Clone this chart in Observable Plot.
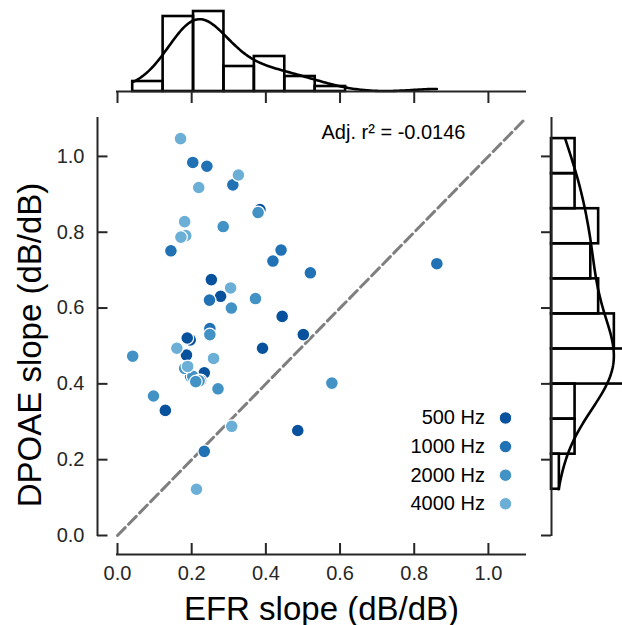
<!DOCTYPE html>
<html>
<head>
<meta charset="utf-8">
<script src="https://cdn.jsdelivr.net/npm/d3@7"></script>
<script src="https://cdn.jsdelivr.net/npm/@observablehq/plot@0.6"></script>
<style>
  html, body { margin: 0; padding: 0; background: white; }
  #fig { position: relative; width: 622px; height: 625px; overflow: hidden; background: white; }
  #fig svg { position: absolute; left: 0; top: 0; max-width: none; }
</style>
</head>
<body>
<div id="fig"></div>
<script>
// ---------------- data ----------------
const freqs = ["500 Hz", "1000 Hz", "2000 Hz", "4000 Hz"];
const blues = ["#08519c", "#2171b5", "#4292c6", "#6baed6"];

const efr500   = [0.384, 0.253, 0.278, 0.444, 0.501, 0.196, 0.188, 0.186, 0.391, 0.234, 0.129, 0.486];
const dpoae500 = [0.860, 0.675, 0.631, 0.578, 0.530, 0.516, 0.521, 0.476, 0.494, 0.429, 0.330, 0.277];

const efr1000   = [0.203, 0.241, 0.311, 0.144, 0.441, 0.419, 0.520, 0.248, 0.249, 0.234, 0.861, 0.197, 0.224];
const dpoae1000 = [0.984, 0.974, 0.925, 0.751, 0.753, 0.724, 0.693, 0.621, 0.546, 0.222, 0.717, 0.420, 0.409];

const efr2000   = [0.379, 0.285, 0.372, 0.307, 0.249, 0.041, 0.181, 0.203, 0.220, 0.211, 0.271, 0.097, 0.578];
const dpoae2000 = [0.852, 0.815, 0.625, 0.600, 0.530, 0.473, 0.441, 0.420, 0.408, 0.406, 0.387, 0.368, 0.402];

const efr4000   = [0.170, 0.326, 0.219, 0.181, 0.184, 0.171, 0.305, 0.160, 0.259, 0.189, 0.308, 0.213];
const dpoae4000 = [1.047, 0.951, 0.918, 0.828, 0.791, 0.787, 0.653, 0.494, 0.467, 0.446, 0.288, 0.122];

const xTicks = [0.0, 0.2, 0.4, 0.6, 0.8, 1.0];
const yTicks = [0.0, 0.2, 0.4, 0.6, 0.8, 1.0];
const xDomain = [0, 1.1];
const yDomain = [0, 1.1];
const xLabel = "EFR slope (dB/dB)";
const yLabel = "DPOAE slope (dB/dB)";
const annotation = "Adj. r\u00B2 = -0.0146";
const nBins = 10;

// ---------------- build table ----------------
const efrSets = [efr500, efr1000, efr2000, efr4000];
const dpSets = [dpoae500, dpoae1000, dpoae2000, dpoae4000];
const points = [];
freqs.forEach((f, k) => efrSets[k].forEach((e, i) => points.push({freq: f, efr: e, dpoae: dpSets[k][i]})));

const efrAll = points.map(d => d.efr);
const dpAll = points.map(d => d.dpoae);

function edges(vals) {
  const [lo, hi] = d3.extent(vals);
  return d3.range(nBins + 1).map(i => lo + (hi - lo) * i / nBins);
}
function kdeCounts(vals, gridsize = 200) {
  const N = vals.length;
  const bw = d3.deviation(vals) * Math.pow(N, -0.2);
  const [lo, hi] = d3.extent(vals);
  const binW = (hi - lo) / nBins;
  return d3.range(gridsize).map(i => {
    const v = lo + (hi - lo) * i / (gridsize - 1);
    const dens = d3.sum(vals, xi => Math.exp(-0.5 * ((v - xi) / bw) ** 2)) / (N * bw * Math.sqrt(2 * Math.PI));
    return {v, c: dens * N * binW};
  });
}
const efrEdges = edges(efrAll), dpEdges = edges(dpAll);
const efrMax = d3.max(d3.bin().domain(d3.extent(efrAll)).thresholds(efrEdges.slice(1, -1))(efrAll), b => b.length);
const dpMax = d3.max(d3.bin().domain(d3.extent(dpAll)).thresholds(dpEdges.slice(1, -1))(dpAll), b => b.length);
const kdeTop = kdeCounts(efrAll);
const kdeRight = kdeCounts(dpAll);

const ink = "#262626";
const font = "'Liberation Sans', Arial, sans-serif";
const baseStyle = {background: "transparent", fontFamily: font, overflow: "visible", maxWidth: "none"};
const fig = document.getElementById("fig");

// ---------------- main joint plot ----------------
const W = 622, H = 625;
const mL = 117, mR = 97, mT = 118, mB = 90;
const frameW = W - mL - mR, frameH = H - mT - mB;

const legendMarks = freqs.flatMap((f, i) => [
  Plot.dot([f], {fill: d => d, frameAnchor: "bottom-right", dx: -20, dy: -117.5 + i * 28.6, r: 6.2, stroke: "white", strokeWidth: 1}),
  Plot.text([f], {text: d => d, frameAnchor: "bottom-right", dx: -40.5, dy: -117.5 + i * 28.6, textAnchor: "end", lineAnchor: "middle", fontSize: 20, fill: "black"})
]);

const mainPlot = Plot.plot({
  width: W, height: H,
  marginLeft: mL, marginRight: mR, marginTop: mT, marginBottom: mB,
  x: {domain: xDomain},
  y: {domain: yDomain},
  color: {domain: freqs, range: blues},
  style: baseStyle,
  marks: [
    Plot.line(xDomain, {x: d => d, y: d => d, stroke: "#7f7f7f", strokeWidth: 3, strokeDasharray: "11,4.8"}),
    Plot.dot(points, {x: "efr", y: "dpoae", fill: "freq", r: 6.4, stroke: "white", strokeWidth: 1.2}),
    // offset spines
    Plot.ruleY([yDomain[0]], {x1: xDomain[0], x2: xDomain[1], dy: 19, stroke: ink, strokeWidth: 2, strokeLinecap: "square"}),
    Plot.ruleX([xDomain[0]], {y1: yDomain[0], y2: yDomain[1], dx: -20, stroke: ink, strokeWidth: 2, strokeLinecap: "square"}),
    // inward ticks on offset spines
    Plot.tickX(xTicks, {x: d => d, insetTop: frameH - 11, dy: 19, stroke: ink, strokeWidth: 2}),
    Plot.tickY(yTicks, {y: d => d, insetRight: frameW - 10.5, dx: -20, stroke: ink, strokeWidth: 2}),
    // tick labels
    Plot.axisX(xTicks, {tickSize: 0, tickPadding: 30, tickFormat: d3.format(".1f"), fontSize: 20, fill: ink, label: null}),
    Plot.axisY(yTicks, {tickSize: 0, tickPadding: 33, tickFormat: d3.format(".1f"), fontSize: 20, fill: ink, label: null}),
    // axis titles
    Plot.text([xLabel], {text: d => d, frameAnchor: "bottom", dy: 84, textAnchor: "middle", lineAnchor: "bottom", fontSize: 33, fill: "black"}),
    Plot.text([yLabel], {text: d => d, frameAnchor: "left", dx: -77, dy: 18, rotate: -90, textAnchor: "middle", lineAnchor: "bottom", fontSize: 33, fill: "black"}),
    // annotation
    Plot.text([annotation], {text: d => d, frameAnchor: "top", dy: 20.5, textAnchor: "start", lineAnchor: "bottom", fontSize: 20, fill: "black"}),
    ...legendMarks
  ]
});
fig.appendChild(mainPlot);

// ---------------- top marginal ----------------
const topH = 110, topBase = 91, topTop = 7;
const topPlot = Plot.plot({
  width: W, height: topH,
  marginLeft: mL, marginRight: mR, marginTop: topTop, marginBottom: topH - topBase,
  x: {domain: xDomain, axis: null},
  y: {domain: [0, efrMax * 1.05], axis: null},
  style: baseStyle,
  marks: [
    Plot.rectY(efrAll, Plot.binX({y: "count"}, {x: d => d, thresholds: efrEdges, inset: 0, fill: "none", stroke: "black", strokeWidth: 2.6})),
    Plot.line(kdeTop, {x: "v", y: "c", stroke: "black", strokeWidth: 2.6}),
    Plot.ruleY([0], {x1: xDomain[0], x2: xDomain[1], stroke: ink, strokeWidth: 2, strokeLinecap: "square"}),
    Plot.tickX(xTicks, {x: d => d, insetTop: (topBase - topTop) - 12, dy: 12, stroke: ink, strokeWidth: 2})
  ]
});
fig.appendChild(topPlot);

// ---------------- right marginal ----------------
const rW = 650, rLeft = 551;
const rightPlot = Plot.plot({
  width: rW, height: H,
  marginLeft: rLeft, marginRight: 0, marginTop: mT, marginBottom: mB,
  x: {domain: [0, dpMax * 1.05], axis: null},
  y: {domain: yDomain, axis: null},
  style: baseStyle,
  marks: [
    Plot.rectX(dpAll, Plot.binY({x: "count"}, {y: d => d, thresholds: dpEdges, inset: 0, fill: "none", stroke: "black", strokeWidth: 2.6})),
    Plot.line(kdeRight, {x: "c", y: "v", stroke: "black", strokeWidth: 2.6}),
    Plot.ruleX([0], {y1: yDomain[0], y2: yDomain[1], stroke: ink, strokeWidth: 2, strokeLinecap: "square"}),
    Plot.tickY(yTicks, {y: d => d, insetRight: (rW - rLeft) - 10, dx: -10, stroke: ink, strokeWidth: 2})
  ]
});
fig.appendChild(rightPlot);
</script>
</body>
</html>
